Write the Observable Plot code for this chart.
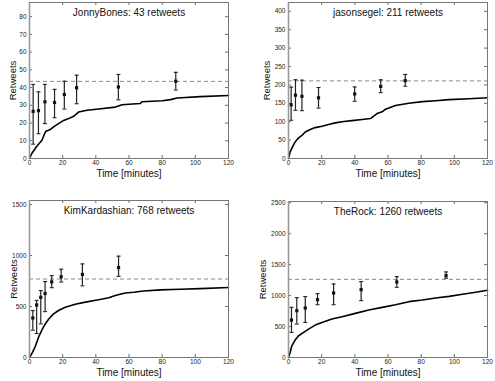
<!DOCTYPE html>
<html><head><meta charset="utf-8">
<script src="https://cdn.jsdelivr.net/npm/d3@7"></script>
<script src="https://cdn.jsdelivr.net/npm/@observablehq/plot@0.6"></script>
<style>
body{margin:0;background:#fff;}
#wrap{position:relative;width:495px;height:381px;overflow:hidden;}
.panel{position:absolute;}
</style></head><body><div id="wrap"></div>
<script>
// ---- data ----
const users = ["JonnyBones", "jasonsegel", "KimKardashian", "TheRock"];
const totals = [43.5, 211, 770, 1262];
const titles = ["JonnyBones: 43 retweets", "jasonsegel: 211 retweets", "KimKardashian: 768 retweets", "TheRock: 1260 retweets"];
const yMax = [88, 424, 1540, 2520];
const xTicks = [0, 20, 40, 60, 80, 100, 120];
const yTicks1 = [0, 10, 20, 30, 40, 50, 60, 70, 80];
const yTicks2 = [0, 50, 100, 150, 200, 250, 300, 350, 400];
const yTicks3 = [0, 500, 1000, 1500];
const yTicks4 = [0, 500, 1000, 1500, 2000, 2500];

// error bar samples: time, mean, low, high
const barT1 = [2.2, 5.4, 9.3, 15.1, 21, 28.4, 53.6, 88.2];
const barM1 = [26.6, 27, 32, 31.6, 36.1, 39.9, 40.3, 43.6];
const barLo1 = [8.1, 14, 19.7, 23, 27.9, 30.9, 33.1, 38.6];
const barHi1 = [41.8, 37.6, 41.8, 39, 43.6, 47, 47.4, 48.6];

const barT2 = [1.6, 4.2, 8.1, 18.1, 39.9, 55.6, 70.4];
const barM2 = [146, 172, 169, 165, 175.5, 196, 211.5];
const barLo2 = [104, 131, 130, 137, 155.5, 179, 196.5];
const barHi2 = [194, 214, 213, 193, 194.5, 214, 228.5];

const barT3 = [2.0, 4.3, 6.8, 9.4, 13.4, 19.1, 31.9, 53.7];
const barM3 = [388, 515, 590, 628, 742, 792, 815, 882];
const barLo3 = [268, 235, 330, 450, 685, 740, 703, 796];
const barHi3 = [460, 560, 656, 745, 803, 866, 918, 994];

const barT4 = [1.8, 5.0, 10.1, 17.5, 27.2, 43.8, 65.3, 95.0];
const barM4 = [605, 756, 800, 934, 1042, 1096, 1220, 1323];
const barLo4 = [405, 540, 567, 853, 853, 918, 1134, 1280];
const barHi4 = [810, 967, 983, 1031, 1188, 1226, 1307, 1382];

// cumulative retweet curves: time, retweets
const curveT1 = [0, 1.4, 4.4, 7.5, 9.1, 9.9, 12.5, 14.5, 17.5, 20.6, 23.6, 26.6, 29.6, 34.7, 41.7, 51.8, 55.8, 60, 66.8, 67.8, 80, 85, 89, 103, 120];
const curveR1 = [0, 2.8, 6.9, 10.3, 14, 15.4, 16.3, 17.8, 19.7, 21.5, 22.5, 23.8, 26.2, 27.2, 27.9, 29, 30.3, 30.6, 31, 32, 32.6, 33.2, 34.1, 34.9, 35.5];

const curveT2 = [0, 1.0, 2.4, 4.0, 5.6, 8.1, 10.1, 13.1, 16.1, 20.2, 24.2, 28.2, 33.3, 38.3, 44.4, 49.4, 51.4, 53.4, 56.5, 58.5, 64.5, 72.6, 80.7, 88.7, 96.8, 108.9, 120];
const curveR2 = [0, 18, 31.7, 45, 54, 63, 72, 78.7, 84, 87.8, 92.3, 96.8, 100.5, 103, 105.9, 108.6, 115, 122, 127, 134, 144, 150, 154.5, 157, 160, 162.5, 165];

const curveT3 = [0, 1.4, 3.4, 5.4, 7.5, 9.5, 11.5, 14.5, 17.5, 21.6, 27.6, 33.7, 41.7, 47.8, 51.8, 55.8, 57.9, 62.8, 68.9, 78.9, 91, 103, 120];
const curveR3 = [0, 39, 105, 197, 270, 329, 375, 428, 461, 493, 523, 543, 566, 586, 609, 625, 632, 640, 653, 663, 670, 676, 686];

const curveT4 = [0, 1.0, 2.0, 4.0, 6.1, 9.1, 12.1, 16.1, 20.2, 26.2, 32.3, 40.3, 48.4, 56.5, 64.5, 72.6, 80.7, 88.7, 96.8, 104.9, 112.9, 120];
const curveR4 = [0, 81, 189, 281, 351, 405, 459, 524, 567, 621, 659, 713, 767, 810, 853, 902, 929, 961, 988, 1021, 1053, 1085];

// ---- layout ----
const panels = [
  {left: 0, top: 0, width: 248, height: 190, mt: 2, mb: 32, ml: 29, mr: 20, ylab: 17,
   yTicks: yTicks1, barT: barT1, barM: barM1, barLo: barLo1, barHi: barHi1, cT: curveT1, cR: curveR1},
  {left: 248, top: 0, width: 247, height: 190, mt: 2, mb: 32, ml: 40, mr: 8, ylab: 22,
   yTicks: yTicks2, barT: barT2, barM: barM2, barLo: barLo2, barHi: barHi2, cT: curveT2, cR: curveR2},
  {left: 0, top: 190, width: 248, height: 191, mt: 10, mb: 24, ml: 29, mr: 20, ylab: 16,
   yTicks: yTicks3, barT: barT3, barM: barM3, barLo: barLo3, barHi: barHi3, cT: curveT3, cR: curveR3},
  {left: 248, top: 190, width: 247, height: 191, mt: 11, mb: 24, ml: 40, mr: 8, ylab: 26,
   yTicks: yTicks4, barT: barT4, barM: barM4, barLo: barLo4, barHi: barHi4, cT: curveT4, cR: curveR4}
];

const capSymbol = {
  draw(context, size) {
    const r = Math.sqrt(size / Math.PI);
    context.moveTo(-r, 0);
    context.lineTo(r, 0);
  }
};

const wrap = document.getElementById("wrap");
const font = "'Liberation Sans', Arial, Helvetica, sans-serif";
const plain = d => String(d);

panels.forEach((p, i) => {
  const bars = p.barT.map((t, j) => ({t, m: p.barM[j], lo: p.barLo[j], hi: p.barHi[j]}));
  const curve = p.cT.map((t, j) => ({t, r: p.cR[j]}));
  const innerH = p.height - p.mt - p.mb;
  const innerW = p.width - p.ml - p.mr;
  const tl = 3;
  const chart = Plot.plot({
    width: p.width, height: p.height,
    marginTop: p.mt, marginBottom: p.mb, marginLeft: p.ml, marginRight: p.mr,
    style: {fontFamily: font, background: "#fff"},
    x: {domain: [0, 120]},
    y: {domain: [0, yMax[i]]},
    marks: [
      // inward ticks on all four sides
      Plot.ruleX(xTicks, {x: d => d, insetTop: innerH - tl, stroke: "#444", strokeWidth: 0.8}),
      Plot.ruleX(xTicks, {x: d => d, insetBottom: innerH - tl, stroke: "#444", strokeWidth: 0.8}),
      Plot.ruleY(p.yTicks, {y: d => d, insetRight: innerW - tl, stroke: "#444", strokeWidth: 0.8}),
      Plot.ruleY(p.yTicks, {y: d => d, insetLeft: innerW - tl, stroke: "#444", strokeWidth: 0.8}),
      Plot.axisX({ticks: xTicks, tickFormat: plain, tickSize: 0, tickPadding: 2, label: null, fontSize: 6.5, fill: "#222"}),
      Plot.axisY({ticks: p.yTicks, tickFormat: plain, tickSize: 0, tickPadding: 3, label: null, fontSize: 6.5, fill: "#222"}),
      Plot.ruleY([totals[i]], {y: d => d, stroke: "#8a8a8a", strokeWidth: 1, strokeDasharray: "4,3"}),
      Plot.line(curve, {x: "t", y: "r", stroke: "#000", strokeWidth: 1.6}),
      Plot.ruleX(bars, {x: "t", y1: "lo", y2: "hi", stroke: "#222", strokeWidth: 1.2}),
      Plot.dot(bars, {x: "t", y: "lo", symbol: capSymbol, r: 2, stroke: "#222", strokeWidth: 1.1, fill: "none"}),
      Plot.dot(bars, {x: "t", y: "hi", symbol: capSymbol, r: 2, stroke: "#222", strokeWidth: 1.1, fill: "none"}),
      Plot.dot(bars, {x: "t", y: "m", symbol: "square", r: 1.8, fill: "#111", stroke: null}),
      Plot.frame({stroke: "#777", strokeWidth: 1}),
      Plot.ruleX([0], {x: d => d, stroke: "#999", strokeWidth: 1.6}),
      Plot.text([titles[i]], {text: d => d, frameAnchor: "top", dy: 10, lineAnchor: "middle", fontSize: 10, fill: "#111"}),
      Plot.text(["Time [minutes]"], {text: d => d, frameAnchor: "bottom", dy: 15.5, lineAnchor: "middle", fontSize: 10, fill: "#111"}),
      Plot.text(["Retweets"], {text: d => d, frameAnchor: "left", dx: -p.ylab, rotate: -90, textAnchor: "middle", lineAnchor: "middle", fontSize: 9.5, fill: "#111"})
    ]
  });
  const div = document.createElement("div");
  div.className = "panel";
  div.style.left = p.left + "px";
  div.style.top = p.top + "px";
  div.appendChild(chart);
  wrap.appendChild(div);
});
</script>
</body></html>
